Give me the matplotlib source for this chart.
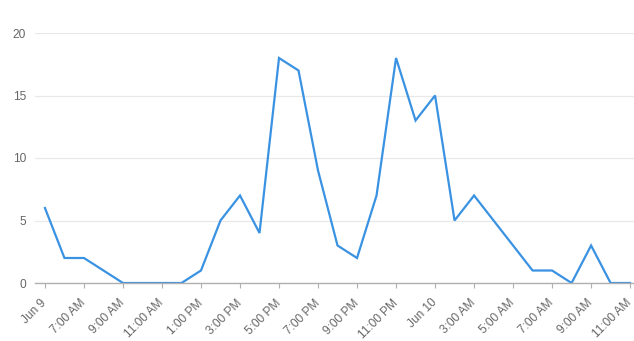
import matplotlib
matplotlib.use("Agg")
import matplotlib.pyplot as plt
import pandas as pd

times = pd.date_range("2023-06-09 05:00", periods=31, freq="h")
values = [6, 2, 2, 1, 0, 0, 0, 0, 1, 5, 7, 4, 18, 17, 9, 3, 2, 7, 18, 13, 15,
          5, 7, 5, 3, 1, 1, 0, 3, 0, 0]
tick_labels = ["Jun 9", "7:00 AM", "9:00 AM", "11:00 AM", "1:00 PM", "3:00 PM",
               "5:00 PM", "7:00 PM", "9:00 PM", "11:00 PM", "Jun 10", "3:00 AM",
               "5:00 AM", "7:00 AM", "9:00 AM", "11:00 AM"]
y_ticks = [0, 5, 10, 15, 20]

hours = [(t - times[0]).total_seconds() / 3600 for t in times]

plt.rcParams["font.family"] = ["Liberation Sans", "DejaVu Sans"]

fig = plt.figure(figsize=(6.34, 3.41), dpi=100)
ax = fig.add_axes([35 / 634, 58 / 341, 599 / 634, 250 / 341])

ax.plot(hours, values, color="#3a92e2", lw=1.6, solid_joinstyle="miter")

ax.set_xlim(-0.51, 30.2)
ax.set_ylim(0, 20)
ax.set_yticks(y_ticks)
ax.set_yticklabels([str(v) for v in y_ticks])
ax.set_xticks(hours[::2])
ax.set_xticklabels(tick_labels, rotation=45, ha="right", va="center",
                   rotation_mode="anchor")

for s in ["top", "right", "left"]:
    ax.spines[s].set_visible(False)
ax.spines["bottom"].set_color("#b0b0b0")
ax.spines["bottom"].set_linewidth(1.0)

ax.grid(axis="y", color="#e8e8e8", lw=0.9)
ax.set_axisbelow(True)
ax.tick_params(axis="y", length=0, pad=6.5, labelsize=8.6, labelcolor="#666666")
ax.tick_params(axis="x", length=3.5, color="#b0b0b0", pad=9.5, labelsize=8.6,
               labelcolor="#666666")

fig.savefig("out.png", dpi=100)
